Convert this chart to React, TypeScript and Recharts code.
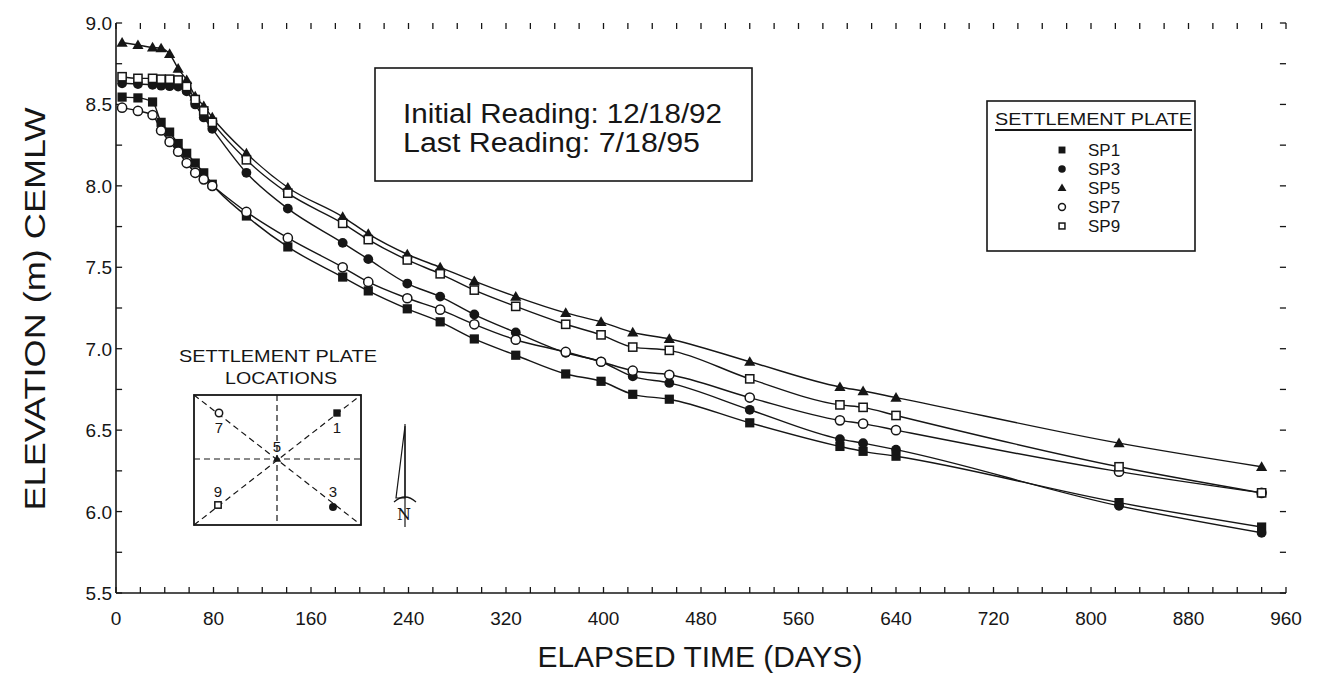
import React from "react";
import { LineChart, Line, XAxis, YAxis, ReferenceLine } from "recharts";

// elapsed days of each reading (shared by all plates)
const DAYS = [5, 18, 30, 37, 44, 51, 58, 65, 72, 79, 107, 141, 186, 207, 239, 266, 294, 328, 369, 398, 424, 454, 520, 594, 613, 640, 823, 940];

// elevations (m CEMLW)
const SP1 = [8.545, 8.54, 8.515, 8.39, 8.33, 8.26, 8.2, 8.14, 8.08, 8.01, 7.815, 7.625, 7.44, 7.355, 7.245, 7.165, 7.06, 6.96, 6.845, 6.8, 6.72, 6.69, 6.545, 6.4, 6.37, 6.34, 6.055, 5.905];
const SP3 = [8.63, 8.625, 8.62, 8.615, 8.612, 8.61, 8.58, 8.5, 8.42, 8.35, 8.08, 7.86, 7.65, 7.55, 7.4, 7.32, 7.21, 7.1, 6.975, 6.92, 6.83, 6.79, 6.625, 6.445, 6.42, 6.38, 6.035, 5.87];
const SP5 = [8.88, 8.865, 8.85, 8.845, 8.81, 8.72, 8.65, 8.55, 8.49, 8.42, 8.2, 7.99, 7.81, 7.705, 7.58, 7.5, 7.415, 7.32, 7.22, 7.165, 7.1, 7.06, 6.92, 6.765, 6.74, 6.7, 6.42, 6.275];
const SP7 = [8.48, 8.46, 8.435, 8.34, 8.27, 8.21, 8.14, 8.08, 8.04, 8.0, 7.84, 7.68, 7.5, 7.41, 7.31, 7.24, 7.15, 7.055, 6.98, 6.92, 6.865, 6.84, 6.7, 6.56, 6.54, 6.5, 6.245, 6.115];
const SP9 = [8.67, 8.66, 8.66, 8.655, 8.655, 8.65, 8.61, 8.53, 8.46, 8.39, 8.16, 7.955, 7.77, 7.67, 7.545, 7.46, 7.36, 7.26, 7.15, 7.085, 7.01, 6.99, 6.815, 6.655, 6.64, 6.59, 6.275, 6.115];

const X_TICKS = [0, 20, 40, 60, 80, 100, 120, 140, 160, 180, 200, 220, 240, 260, 280, 300, 320, 340, 360, 380, 400, 420, 440, 460, 480, 500, 520, 540, 560, 580, 600, 620, 640, 660, 680, 700, 720, 740, 760, 780, 800, 820, 840, 860, 880, 900, 920, 940, 960];
const X_LABELS = [0, 80, 160, 240, 320, 400, 480, 560, 640, 720, 800, 880, 960];
const Y_TICKS = [5.5, 5.75, 6.0, 6.25, 6.5, 6.75, 7.0, 7.25, 7.5, 7.75, 8.0, 8.25, 8.5, 8.75, 9.0];
const Y_LABELS = [5.5, 6.0, 6.5, 7.0, 7.5, 8.0, 8.5, 9.0];

const SERIES = [
  { key: "sp1", name: "SP1", shape: "fsquare" },
  { key: "sp3", name: "SP3", shape: "fcircle" },
  { key: "sp5", name: "SP5", shape: "ftriangle" },
  { key: "sp7", name: "SP7", shape: "ocircle" },
  { key: "sp9", name: "SP9", shape: "osquare" },
];

const data = DAYS.map((d, i) => ({ day: d, sp1: SP1[i], sp3: SP3[i], sp5: SP5[i], sp7: SP7[i], sp9: SP9[i] }));

const W = 1320;
const H = 677;
const LEFT = 116;
const RIGHT = 1286;
const TOP = 23;
const BOTTOM = 593;
const INK = "#161616";
const FONT = '"Liberation Sans", Arial, Helvetica, sans-serif';
// inward tick length, in data units (about 6 px)
const TICK_DX = 5;
const TICK_DY = 0.037;

function marker(shape: string, cx: number, cy: number, s = 1, key?: any) {
  const r = 4.6 * s;
  switch (shape) {
    case "fsquare":
      return <rect key={key} x={cx - r} y={cy - r} width={2 * r} height={2 * r} fill={INK} />;
    case "fcircle":
      return <circle key={key} cx={cx} cy={cy} r={r + 0.3} fill={INK} />;
    case "ftriangle":
      return <polygon key={key} points={`${cx},${cy - r - 1} ${cx - r - 1},${cy + r - 0.5} ${cx + r + 1},${cy + r - 0.5}`} fill={INK} />;
    case "ocircle":
      return <circle key={key} cx={cx} cy={cy} r={r} fill="#fff" stroke={INK} strokeWidth={1.5} />;
    default:
      return <rect key={key} x={cx - r + 0.5} y={cy - r + 0.5} width={2 * r - 1} height={2 * r - 1} fill="#fff" stroke={INK} strokeWidth={1.5} />;
  }
}

const dotFor = (shape: string) => (p: any) => {
  if (p.cx == null || p.cy == null) return <g key={p.index} />;
  return marker(shape, p.cx, p.cy, 1, `${shape}-${p.index}`);
};

const BottomTick = (p: any) => {
  const v = p.payload.value;
  if (!X_LABELS.includes(v)) return <g />;
  return (
    <text x={p.x} y={BOTTOM + 32} textAnchor="middle" fontSize={19} fontFamily={FONT} fill={INK}>
      {v}
    </text>
  );
};

const LeftTick = (p: any) => {
  const v = p.payload.value;
  if (!Y_LABELS.includes(v)) return <g />;
  return (
    <text x={LEFT - 4} y={p.y + 7} textAnchor="end" fontSize={19} fontFamily={FONT} fill={INK}>
      {v.toFixed(1)}
    </text>
  );
};

const NoLabel = () => <g />;

const axisStyle = { stroke: INK, strokeWidth: 1.6 };

function Overlay() {
  return (
    <svg width={W} height={H} style={{ position: "absolute", left: 0, top: 0, pointerEvents: "none" }} fontFamily={FONT}>
      {/* axis titles */}
      <text x={700} y={667} textAnchor="middle" fontSize={30} fill={INK} textLength={325} lengthAdjust="spacingAndGlyphs">
        ELAPSED TIME (DAYS)
      </text>
      <text transform="translate(45,309) rotate(-90)" textAnchor="middle" fontSize={30} fill={INK} textLength={403} lengthAdjust="spacingAndGlyphs">
        ELEVATION (m) CEMLW
      </text>

      {/* reading dates */}
      <rect x={375} y={68} width={377} height={113} fill="#fff" stroke={INK} strokeWidth={1.6} />
      <text x={403} y={123} fontSize={27} fill={INK} textLength={319} lengthAdjust="spacingAndGlyphs">Initial Reading: 12/18/92</text>
      <text x={403} y={152} fontSize={27} fill={INK} textLength={297} lengthAdjust="spacingAndGlyphs">Last Reading: 7/18/95</text>

      {/* legend */}
      <rect x={987} y={101} width={208} height={150} fill="#fff" stroke={INK} strokeWidth={1.6} />
      <text x={995} y={125} fontSize={17} fill={INK} textLength={197} lengthAdjust="spacingAndGlyphs">SETTLEMENT PLATE</text>
      <line x1={995} x2={1192} y1={130} y2={130} stroke={INK} strokeWidth={2} />
      {SERIES.map((s, i) => {
        const cy = 150 + i * 19;
        return (
          <g key={s.key}>
            {marker(s.shape, 1062, cy, 0.75)}
            <text x={1088} y={cy + 6} fontSize={17} fill={INK}>{s.name}</text>
          </g>
        );
      })}

      {/* plate location sketch */}
      <text x={278} y={362} textAnchor="middle" fontSize={17} fill={INK} textLength={198} lengthAdjust="spacingAndGlyphs">SETTLEMENT PLATE</text>
      <text x={281} y={384} textAnchor="middle" fontSize={17} fill={INK} textLength={112} lengthAdjust="spacingAndGlyphs">LOCATIONS</text>
      <rect x={194} y={395} width={167} height={130} fill="#fff" stroke={INK} strokeWidth={1.8} />
      <g stroke={INK} strokeWidth={1.2} strokeDasharray="6 4">
        <line x1={277} x2={277} y1={395} y2={525} />
        <line x1={194} x2={361} y1={459} y2={459} />
        <line x1={194} x2={361} y1={395} y2={525} />
        <line x1={194} x2={361} y1={525} y2={395} />
      </g>
      {marker("ocircle", 219, 413, 0.8)}
      {marker("fsquare", 337, 413, 0.8)}
      {marker("ftriangle", 277, 459, 0.7)}
      {marker("osquare", 218, 505, 0.8)}
      {marker("fcircle", 333, 507, 0.8)}
      <g fontSize={15} fill={INK} textAnchor="middle">
        <text x={219} y={433}>7</text>
        <text x={337} y={433}>1</text>
        <text x={277} y={452}>5</text>
        <text x={218} y={497}>9</text>
        <text x={333} y={497}>3</text>
      </g>

      {/* north arrow */}
      <g stroke={INK} strokeWidth={1.2} fill="none">
        <line x1={405} x2={405} y1={424} y2={527} />
        <polygon points="405,426 396,498 405,498" />
        <path d="M394,502 Q405,492 416,502" />
      </g>
      <text x={404} y={520} textAnchor="middle" fontSize={16} fontFamily="'DejaVu Serif', serif" fill={INK}>N</text>
    </svg>
  );
}

export default function App() {
  return (
    <div style={{ position: "absolute", left: 0, top: 0, width: W, height: H, background: "#fff" }}>
      <LineChart width={W} height={H} data={data} margin={{ top: TOP, right: W - RIGHT, bottom: 0, left: 0 }}>
        <XAxis
          dataKey="day"
          type="number"
          domain={[0, 960]}
          ticks={X_TICKS}
          interval={0}
          height={H - BOTTOM}
          tickLine={false}
          tick={BottomTick}
          axisLine={axisStyle}
        />
        <XAxis
          xAxisId="top"
          orientation="top"
          type="number"
          domain={[0, 960]}
          ticks={X_TICKS}
          interval={0}
          height={0}
          tickLine={false}
          tick={NoLabel}
          axisLine={axisStyle}
        />
        <YAxis
          type="number"
          domain={[5.5, 9]}
          ticks={Y_TICKS}
          interval={0}
          width={LEFT}
          tickLine={false}
          tick={LeftTick}
          axisLine={axisStyle}
        />
        <YAxis
          yAxisId="right"
          orientation="right"
          type="number"
          domain={[5.5, 9]}
          ticks={Y_TICKS}
          interval={0}
          width={0}
          tickLine={false}
          tick={NoLabel}
          axisLine={axisStyle}
        />
        {X_TICKS.map((t) => (
          <ReferenceLine key={`xb${t}`} segment={[{ x: t, y: 5.5 }, { x: t, y: 5.5 + TICK_DY }]} stroke={INK} strokeWidth={1.3} />
        ))}
        {X_TICKS.map((t) => (
          <ReferenceLine key={`xt${t}`} segment={[{ x: t, y: 9 }, { x: t, y: 9 - TICK_DY }]} stroke={INK} strokeWidth={1.3} />
        ))}
        {Y_TICKS.map((t) => (
          <ReferenceLine key={`yl${t}`} segment={[{ x: 0, y: t }, { x: TICK_DX, y: t }]} stroke={INK} strokeWidth={1.3} />
        ))}
        {Y_TICKS.map((t) => (
          <ReferenceLine key={`yr${t}`} segment={[{ x: 960, y: t }, { x: 960 - TICK_DX, y: t }]} stroke={INK} strokeWidth={1.3} />
        ))}
        {SERIES.map((s) => (
          <Line
            key={s.key}
            dataKey={s.key}
            name={s.name}
            type="monotone"
            stroke={INK}
            strokeWidth={1.4}
            dot={dotFor(s.shape)}
            isAnimationActive={false}
          />
        ))}
      </LineChart>
      <Overlay />
    </div>
  );
}
